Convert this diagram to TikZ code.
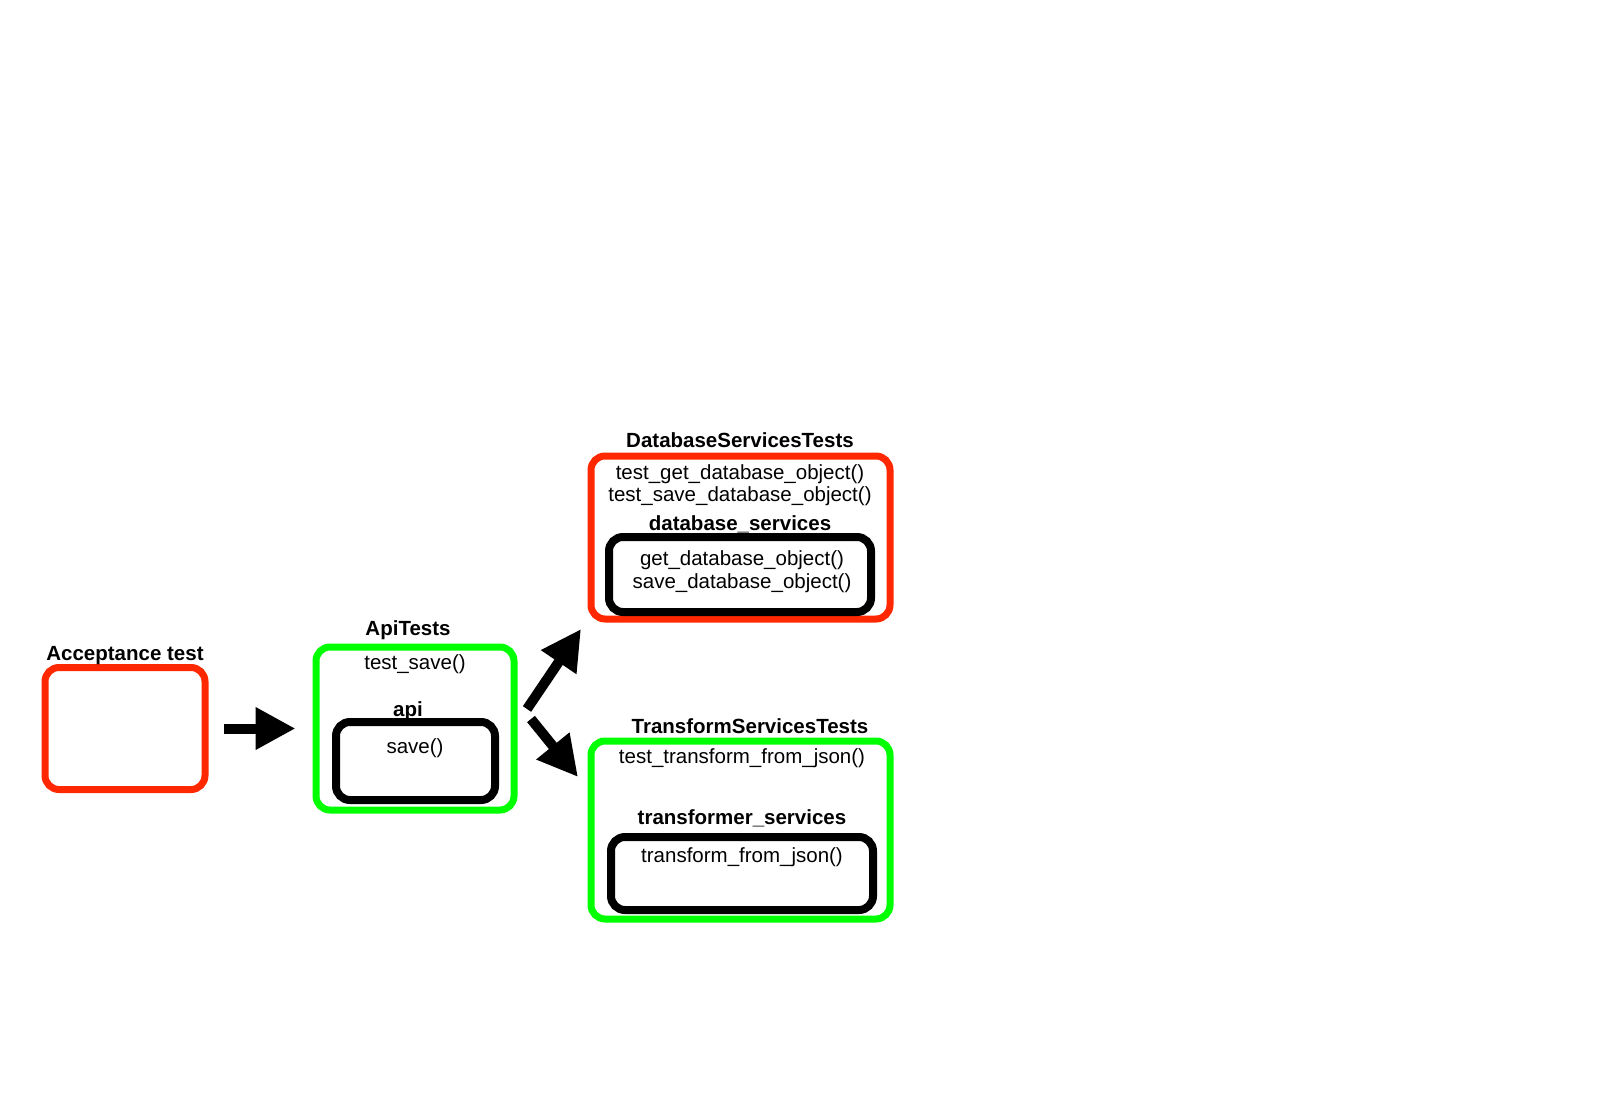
\documentclass[tikz,border=0pt]{standalone}
\usepackage{fontspec}
\setmainfont{Liberation Sans}
\usetikzlibrary{arrows.meta}
\definecolor{vermelho}{RGB}{255,40,0}
\definecolor{verde}{RGB}{0,255,0}

\begin{document}
\begin{tikzpicture}[
    x=1pt, y=-1pt,
    % Test boxes (outer)
    caixa/.style={
        rounded corners=14pt, line width=7pt, fill=white,
        inner sep=0pt, outer sep=0pt
    },
    caixared/.style={caixa, draw=vermelho},
    caixagreen/.style={caixa, draw=verde},
    % Module boxes (inner)
    modulo/.style={
        draw=black, rounded corners=14pt, line width=8pt,
        inner sep=0pt, outer sep=0pt
    },
    % Texts
    titulo/.style={font=\fontsize{20.5}{22}\selectfont\bfseries, anchor=base, inner sep=0pt},
    texto/.style={font=\fontsize{20.5}{22}\selectfont, anchor=base, inner sep=0pt, align=center},
    seta/.style={draw=black, line width=10pt, -{Triangle[length=40pt,width=40pt]}}
]
\useasboundingbox (0,0) rectangle (1600,1100);

% ---- ACCEPTANCE TEST ----
\node[caixared, minimum width=160pt, minimum height=122pt] (acc) at (125,728.5) {};
\node[titulo] (acc_t) at (125,660) {Acceptance test};

% ---- API TESTS ----
\node[caixagreen, minimum width=198pt, minimum height=163pt] (apit) at (415,728.5) {};
\node[titulo] (apit_t) at (408,635) {ApiTests};
\node[texto]  (apit_f) at (415,669) {test\_save()};
\node[titulo] (api_t)  at (408,716) {api};
\node[modulo, minimum width=159pt, minimum height=78pt] (api) at (415.5,761) {};
\node[texto]  (api_f)  at (415,753) {save()};

% ---- DATABASE SERVICES TESTS ----
\node[caixared, minimum width=299pt, minimum height=163pt] (dbt) at (740.5,537.5) {};
\node[titulo] (dbt_t) at (740,447) {DatabaseServicesTests};
\node[texto, anchor=center] (dbt_f) at (740,485) {test\_get\_database\_object()\\test\_save\_database\_object()};
\node[titulo] (db_t)  at (740,530) {database\_services};
\node[modulo, minimum width=262pt, minimum height=75pt] (db) at (740,574.5) {};
\node[texto, anchor=center, font=\fontsize{20.5}{23}\selectfont] (db_f) at (742,572) {get\_database\_object()\\save\_database\_object()};

% ---- TRANSFORM SERVICES TESTS ----
\node[caixagreen, minimum width=299pt, minimum height=178pt] (trt) at (740.5,830) {};
\node[titulo] (trt_t) at (750,733) {TransformServicesTests};
\node[texto]  (trt_f) at (742,763) {test\_transform\_from\_json()};
\node[titulo] (tr_t)  at (742,824) {transformer\_services};
\node[modulo, minimum width=262pt, minimum height=73pt] (tr) at (742,873.5) {};
\node[texto]  (tr_f)  at (742,862) {transform\_from\_json()};

% ---- ARROWS ----
\draw[seta, shorten <=19pt, shorten >=20.5pt] (acc.east |- apit.west) -- (apit.west);

\coordinate (sobe_a)  at (527,709);
\coordinate (sobe_b)  at (581,629);
\coordinate (desce_a) at (531,719);
\coordinate (desce_b) at (578,777);
\draw[seta] (sobe_a)  -- (sobe_b);
\draw[seta] (desce_a) -- (desce_b);

\end{tikzpicture}
\end{document}
